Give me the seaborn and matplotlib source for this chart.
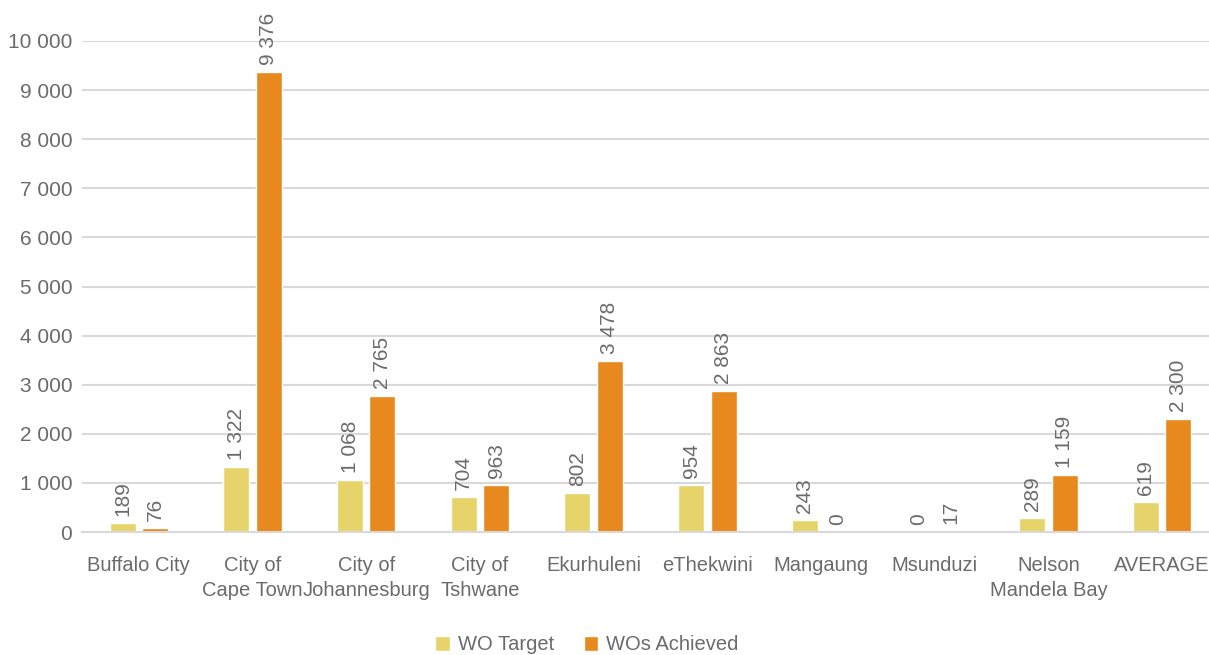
import matplotlib
matplotlib.use("Agg")
import matplotlib.pyplot as plt
import seaborn as sns
import pandas as pd

categories = ["Buffalo City", "City of\nCape Town", "City of\nJohannesburg", "City of\nTshwane",
              "Ekurhuleni", "eThekwini", "Mangaung", "Msunduzi", "Nelson\nMandela Bay", "AVERAGE"]
wo_target = [189, 1322, 1068, 704, 802, 954, 243, 0, 289, 619]
wos_achieved = [76, 9376, 2765, 963, 3478, 2863, 0, 17, 1159, 2300]
series_names = ["WO Target", "WOs Achieved"]
colors = ["#E6D36A", "#E8891E"]
yticks = list(range(0, 10001, 1000))

df = pd.DataFrame({
    "cat": categories * 2,
    "val": wo_target + wos_achieved,
    "series": [series_names[0]] * len(categories) + [series_names[1]] * len(categories),
})

sns.set_style("white")
plt.rcParams["font.family"] = ["Liberation Sans", "DejaVu Sans"]
text_color = "#6B6B6B"
fs = 14.5

fig = plt.figure(figsize=(12.09, 6.55), dpi=100)
ax = fig.add_axes([82 / 1209, 1 - 532 / 655, 1137 / 1209, 491 / 655])

sns.barplot(data=df, x="cat", y="val", hue="series", palette=colors, width=0.57, gap=0.2,
            ax=ax, saturation=1, legend=True)

ax.set_ylim(0, 10000)
ax.set_yticks(yticks)
ax.set_yticklabels([f"{v:,}".replace(",", " ") for v in yticks], fontsize=15, color=text_color)
ax.tick_params(axis="x", labelsize=fs, colors=text_color, length=0, pad=17)
ax.tick_params(axis="y", length=0, pad=7)
for t in ax.get_xticklabels():
    t.set_linespacing(1.4)
ax.set_xlabel("")
ax.set_ylabel("")
ax.grid(axis="y", color="#D9D9D9", linewidth=1.5)
ax.set_axisbelow(True)
for s in ["top", "right", "left"]:
    ax.spines[s].set_visible(False)
ax.spines["bottom"].set_color("#D9D9D9")
ax.spines["bottom"].set_linewidth(1.5)
ax.set_xlim(-0.5, len(categories) - 0.5)

for cont in ax.containers:
    labels = [f"{int(v):,}".replace(",", " ") for v in cont.datavalues]
    ax.bar_label(cont, labels=labels, rotation=90, padding=5, fontsize=15, color=text_color, clip_on=False)

handles, lbls = ax.get_legend_handles_labels()
ax.legend(handles, lbls, loc="center", ncol=2, frameon=False, fontsize=fs,
          handlelength=0.7, handleheight=0.7, handletextpad=0.4, columnspacing=1.5,
          labelcolor=text_color,
          bbox_to_anchor=((587 - 82) / 1137, (532 - 645) / 491), bbox_transform=ax.transAxes)

fig.savefig("out.png", dpi=100)
